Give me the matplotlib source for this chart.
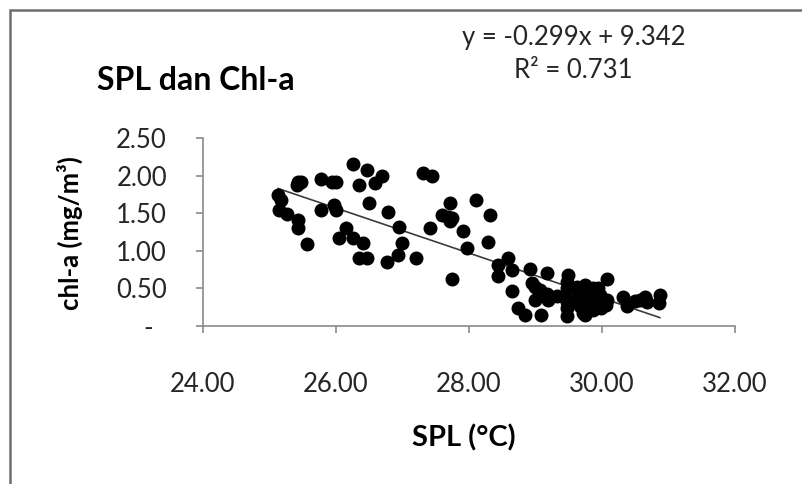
import matplotlib

matplotlib.use('Agg')
import matplotlib.pyplot as plt
from matplotlib.patches import Rectangle
import numpy as np

plt.rcParams['font.family'] = ['Lato', 'DejaVu Sans']

# sea surface temperature (SPL, degC)
spl = [26.26, 26.46, 26.69, 26.59, 26.35, 27.31, 27.45, 25.43, 25.48, 25.41,
       25.77, 25.94, 26.00, 25.13, 25.18, 25.14, 25.27, 25.43, 25.43, 25.56,
       25.78, 25.97, 26.00, 26.49, 26.15, 26.05, 26.26, 26.41, 26.35, 26.47,
       26.76, 26.78, 26.95, 27.00, 26.93, 27.20, 27.72, 28.11, 27.59, 27.69,
       27.71, 27.74, 27.42, 27.91, 27.97, 28.31, 28.29, 27.75, 28.44, 28.44,
       28.59, 28.64, 28.64, 28.74, 28.84, 29.09, 28.91, 29.17, 28.94, 28.99,
       29.07, 29.17, 29.19, 29.32, 29.49, 29.47, 29.48, 29.44, 29.47, 29.48,
       29.47, 29.62, 29.64, 29.62, 29.67, 29.74, 29.79, 29.77, 29.94, 29.97,
       29.94, 29.99, 30.08, 30.07, 30.06, 30.32, 30.37, 30.50, 30.57, 30.65,
       30.67, 30.87, 30.85, 29.86, 28.99, 29.74, 29.71, 29.77, 29.72, 29.86,
       29.86, 29.92]

# chlorophyll-a (mg/m3)
chl = [2.16, 2.07, 2.00, 1.90, 1.87, 2.04, 2.00, 1.91, 1.91, 1.88,
       1.95, 1.92, 1.92, 1.74, 1.68, 1.54, 1.49, 1.41, 1.30, 1.09,
       1.54, 1.61, 1.54, 1.63, 1.30, 1.17, 1.17, 1.10, 0.91, 0.91,
       0.85, 1.51, 1.32, 1.11, 0.94, 0.91, 1.63, 1.68, 1.48, 1.45,
       1.39, 1.43, 1.30, 1.26, 1.04, 1.47, 1.12, 0.63, 0.81, 0.66,
       0.90, 0.75, 0.47, 0.24, 0.15, 0.15, 0.76, 0.70, 0.57, 0.52,
       0.48, 0.43, 0.35, 0.40, 0.68, 0.59, 0.50, 0.39, 0.32, 0.24,
       0.13, 0.52, 0.41, 0.32, 0.26, 0.15, 0.50, 0.39, 0.50, 0.41,
       0.32, 0.24, 0.62, 0.35, 0.28, 0.39, 0.26, 0.33, 0.35, 0.39,
       0.32, 0.41, 0.30, 0.21, 0.35, 0.54, 0.44, 0.31, 0.17, 0.51,
       0.39, 0.25]

# trendline from the chart label
slope = -0.299
intercept = 9.342
r2 = 0.731

x_ticks = [24, 26, 28, 30, 32]
x_labels = ['24.00', '26.00', '28.00', '30.00', '32.00']
y_ticks = [0, 0.5, 1.0, 1.5, 2.0, 2.5]
y_labels = ['-  ', '0.50', '1.00', '1.50', '2.00', '2.50']

fig = plt.figure(figsize=(8.03, 4.84), dpi=100)
ax = fig.add_axes([0.2528, 0.3264, 0.6625, 0.3885])

# outer chart frame
fig.patches.append(Rectangle((10 / 803, -0.1), 1.2, 1.1 - 10 / 484, transform=fig.transFigure,
                             fill=False, edgecolor='#6e6e6e', linewidth=1.8))

ax.scatter(spl, chl, s=82, color='black', zorder=3)

xs = np.array([min(spl), max(spl)])
ax.plot(xs, slope * xs + intercept, color='#3c3c3c', linewidth=1.2, zorder=2)

ax.set_xlim(24, 32)
ax.set_ylim(0, 2.5)
ax.set_xticks(x_ticks)
ax.set_xticklabels(x_labels)
ax.set_yticks(y_ticks)
ax.set_yticklabels(y_labels)

for side in ['top', 'right']:
    ax.spines[side].set_visible(False)
for side in ['left', 'bottom']:
    ax.spines[side].set_color('#8a8a8a')
    ax.spines[side].set_linewidth(1.2)
ax.tick_params(axis='both', direction='out', length=5, width=1.2, color='#8a8a8a',
               labelsize=18.5, labelcolor='#262626')
ax.tick_params(axis='y', pad=21)
ax.tick_params(axis='x', pad=28)

fig.text(464 / 803, 1 - 438 / 484, 'SPL (°C)', fontsize=21, fontweight='bold',
         ha='center', va='center')
fig.text(70 / 803, 1 - 233 / 484, 'chl-a (mg/m³)', rotation=90, fontsize=18.5,
         fontweight='bold', ha='center', va='center')

fig.text(97 / 803, 1 - 80 / 484, 'SPL dan Chl-a', fontsize=23, fontweight='bold',
         ha='left', va='center')
fig.text(574 / 803, 1 - 37 / 484, f'y = {slope}x + {intercept}', fontsize=18.5,
         ha='center', va='center', color='#262626')
fig.text(573 / 803, 1 - 71 / 484, f'R² = {r2}', fontsize=18.5,
         ha='center', va='center', color='#262626')

fig.savefig('out.png', dpi=100, facecolor='white')
